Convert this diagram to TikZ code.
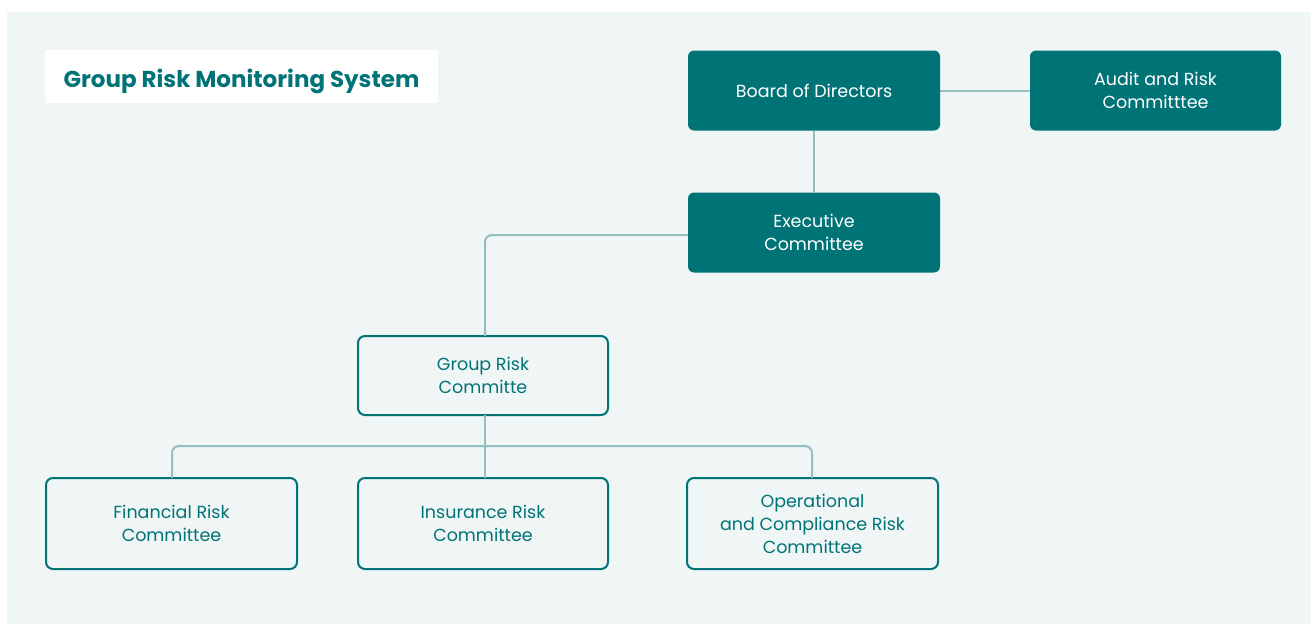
\documentclass[tikz,border=0pt]{standalone}
\usepackage{fontspec}
\setmainfont{Poppins}
\definecolor{mainteal}{HTML}{007377}
\definecolor{panelbg}{HTML}{F0F5F5}
\definecolor{linkcol}{HTML}{93BFC1}
\tikzset{
  filledbox/.style={draw=none, fill=mainteal, rounded corners=6pt, text=white, align=center,
    font=\fontsize{17.5}{23}\selectfont, inner sep=0pt},
  outlinebox/.style={draw=mainteal, line width=2pt, fill=panelbg, rounded corners=7pt, text=mainteal, align=center,
    font=\fontsize{17.5}{23}\selectfont, inner sep=0pt},
  link/.style={draw=linkcol, line width=2pt, rounded corners=7pt},
  titletext/.style={text=mainteal, font=\bfseries\fontsize{23}{27}\selectfont, inner sep=0pt}
}
\begin{document}
\begin{tikzpicture}[x=1pt,y=-1pt]
\useasboundingbox (0,0) rectangle (1311,624);
\fill[white] (0,0) rectangle (1311,624);
\fill[panelbg] (7,12) rectangle (1311,624);
\fill[white] (45,50) rectangle (438,103);
\node[titletext] (title) at (241.5,81.5) {Group Risk Monitoring System};

\node[filledbox, minimum width=252pt, minimum height=80pt] (board) at (814,90.5) {Board of Directors};
\node[filledbox, minimum width=251pt, minimum height=80pt] (audit) at (1155.5,90.5) {Audit and Risk\\Committtee};
\node[filledbox, minimum width=252pt, minimum height=80pt] (exec) at (814,232.5) {Executive\\Committee};
\node[outlinebox, minimum width=250pt, minimum height=79pt] (group) at (483,375.5) {Group Risk\\Committe};
\node[outlinebox, minimum width=251pt, minimum height=91pt] (fin) at (171.5,523.5) {Financial Risk\\Committee};
\node[outlinebox, minimum width=250pt, minimum height=91pt] (ins) at (483,523.5) {Insurance Risk\\Committee};
\node[outlinebox, minimum width=251pt, minimum height=91pt] (op) at (812.5,523.5) {Operational\\and Compliance Risk\\Committee};

\coordinate (split) at (485,446);
\draw[link] (board.east) -- (audit.west);
\draw[link] (board.south) -- (exec.north);
\draw[link] ([yshift=-2.5pt]exec.west) -| ([xshift=2pt,yshift=-1pt]group.north);
\draw[link] ([xshift=2pt,yshift=1pt]group.south) -- ([xshift=2pt,yshift=-1pt]ins.north);
\draw[link] ([xshift=0.5pt,yshift=-1pt]fin.north) |- (split) -| ([xshift=-0.5pt,yshift=-1pt]op.north);
\end{tikzpicture}
\end{document}
